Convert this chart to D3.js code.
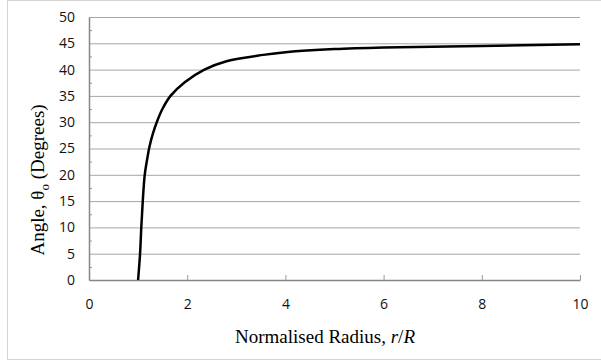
<!DOCTYPE html>
<html>
<head>
<meta charset="utf-8">
<script src="https://cdn.jsdelivr.net/npm/d3@7"></script>
<style>
  body { margin: 0; background: #fff; }
</style>
</head>
<body>
<div id="chart"></div>
<script>
// values
const radius = [1.00, 1.04, 1.065, 1.095, 1.135, 1.185, 1.23, 1.30, 1.38, 1.50, 1.66, 1.95, 2.35, 2.80, 3.55, 4.0, 5.0, 6.0, 8.0, 10.0];
const angle  = [0, 5, 10, 15, 20, 23, 25.3, 27.8, 30, 32.6, 35, 37.6, 40, 41.6, 42.8, 43.3, 43.9, 44.2, 44.5, 44.8];
const xTicks = [0, 2, 4, 6, 8, 10];
const yTicks = [0, 5, 10, 15, 20, 25, 30, 35, 40, 45, 50];
const yMinor = [2.5, 7.5, 12.5, 17.5, 22.5, 27.5, 32.5, 37.5, 42.5, 47.5];

const w = 601, h = 362;
const padLeft = 89, padRight = 580, padTop = 17, padBottom = 280;

const data = radius.map((r, i) => [r, angle[i]]);

const svg = d3.select("#chart").append("svg")
  .attr("width", w)
  .attr("height", h);

// chart border (runs off the right edge)
svg.append("rect")
  .attr("x", 7.5).attr("y", 0.5)
  .attr("width", 700).attr("height", 359)
  .attr("fill", "none")
  .attr("stroke", "#d4d4d4");

const xScale = d3.scaleLinear().domain([0, 10]).range([padLeft, padRight]);
const yScale = d3.scaleLinear().domain([0, 50]).range([padBottom, padTop]);

// gridlines
svg.append("g")
  .selectAll("line")
  .data(yTicks.slice(1))
  .enter()
  .append("line")
  .attr("x1", padLeft).attr("x2", padRight)
  .attr("y1", d => yScale(d) + 0.5).attr("y2", d => yScale(d) + 0.5)
  .attr("stroke", "#a6a6a6")
  .attr("stroke-width", 1);

// minor ticks on y axis (inside)
svg.append("g")
  .selectAll("line")
  .data(yMinor)
  .enter()
  .append("line")
  .attr("x1", padLeft).attr("x2", padLeft + 3)
  .attr("y1", d => yScale(d) + 0.5).attr("y2", d => yScale(d) + 0.5)
  .attr("stroke", "#9a9a9a");

const xAxis = d3.axisBottom(xScale)
  .tickValues(xTicks)
  .tickSize(-5)
  .tickPadding(19)
  .tickSizeOuter(0);

const yAxis = d3.axisLeft(yScale)
  .tickValues(yTicks)
  .tickSize(0)
  .tickPadding(14);

const gx = svg.append("g")
  .attr("transform", "translate(0," + padBottom + ")")
  .call(xAxis);

const gy = svg.append("g")
  .attr("transform", "translate(" + padLeft + ",0)")
  .call(yAxis);

[gx, gy].forEach(g => {
  g.select(".domain").attr("stroke", "#868686").attr("stroke-width", 1.5);
  g.selectAll(".tick line").attr("stroke", "#9a9a9a");
  g.selectAll("text")
    .attr("font-family", "'Open Sans', sans-serif")
    .attr("font-size", 14)
    .attr("fill", "#111");
});
gx.selectAll(".tick").filter(d => d === 0).select("line").remove();

// curve
const line = d3.line()
  .x(d => xScale(d[0]))
  .y(d => yScale(d[1]))
  .curve(d3.curveCatmullRom.alpha(0.5));

svg.append("path")
  .datum(data)
  .attr("d", line)
  .attr("fill", "none")
  .attr("stroke", "#000")
  .attr("stroke-width", 2.5);

// axis titles
const xt = svg.append("text")
  .attr("x", 325)
  .attr("y", 343)
  .attr("text-anchor", "middle")
  .attr("font-family", "'Liberation Serif', 'Times New Roman', serif")
  .attr("font-size", 19)
  .attr("fill", "#000");
xt.append("tspan").text("Normalised Radius, ");
xt.append("tspan").attr("font-style", "italic").text("r");
xt.append("tspan").text("/");
xt.append("tspan").attr("font-style", "italic").text("R");

const yt = svg.append("text")
  .attr("transform", "translate(44,180) rotate(-90)")
  .attr("text-anchor", "middle")
  .attr("font-family", "'Liberation Serif', 'Times New Roman', serif")
  .attr("font-size", 19)
  .attr("fill", "#000");
yt.append("tspan").text("Angle, θ");
yt.append("tspan").attr("font-size", 13).attr("dy", 5).text("o");
yt.append("tspan").attr("dy", -5).text(" (Degrees)");
</script>
</body>
</html>
